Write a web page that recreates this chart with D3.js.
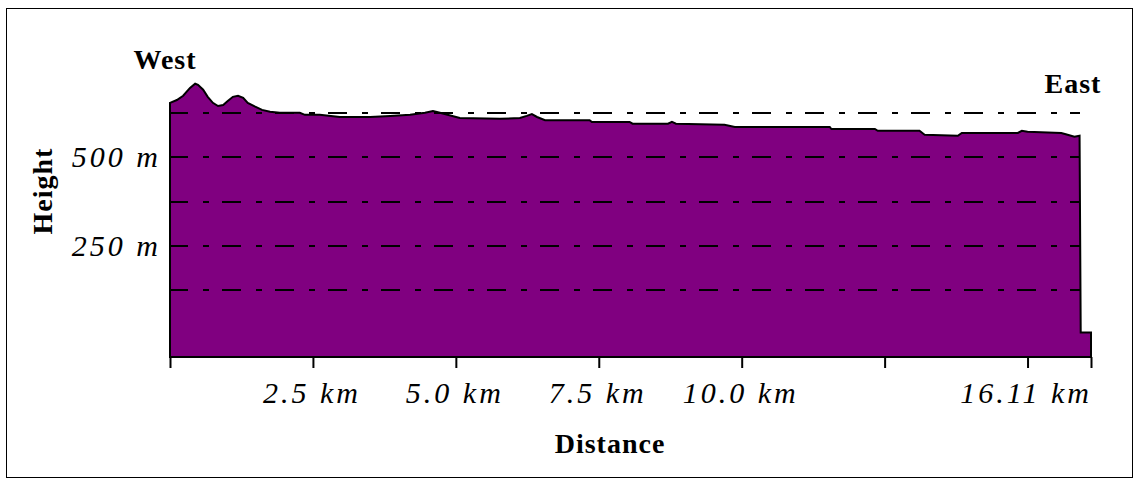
<!DOCTYPE html>
<html>
<head>
<meta charset="utf-8">
<script src="https://cdn.jsdelivr.net/npm/d3@7/dist/d3.min.js"></script>
<style>
  html, body { margin: 0; padding: 0; background: #fff; }
  svg { display: block; }
</style>
</head>
<body>
<svg id="chart" width="1138" height="484"></svg>
<script>
// ---- data (distance in km, height in m) ----
const distances = [0, 0.12, 0.23, 0.35, 0.44, 0.49, 0.58, 0.66, 0.75, 0.84, 0.93, 1.01, 1.10, 1.19, 1.28, 1.36, 1.49, 1.61, 1.75, 1.92,
  2.27, 2.36, 2.62, 2.97, 3.50, 3.85, 4.20, 4.46, 4.60, 4.72, 5.07, 5.77, 6.12, 6.24, 6.33, 6.42, 6.56, 7.34, 7.38, 8.04,
  8.09, 8.71, 8.78, 8.85, 9.70, 9.88, 11.54, 11.57, 12.33, 12.38, 13.11, 13.20, 13.78, 13.85, 14.83, 14.90, 15.00, 15.59, 15.70, 15.82,
  15.91, 15.93, 16.11];
const heights = [654, 662, 674, 696, 708, 705, 691, 671, 654, 645, 648, 659, 671, 674, 668, 654, 643, 634, 629, 626,
  626, 620, 620, 614, 614, 617, 620, 626, 631, 626, 611, 609, 611, 617, 622, 614, 605, 605, 600, 600,
  595, 595, 600, 595, 592, 586, 586, 580, 580, 575, 575, 564, 561, 569, 569, 575, 572, 569, 564, 558,
  561, 5, 5];
const xTickValues = [0, 2.5, 5, 7.5, 10, 12.5, 15, 16.11];
const xLabelValues = [2.5, 5, 7.5, 10];
const xLabelTexts = ["2.5 km", "5.0 km", "7.5 km", "10.0 km"];
const xEndLabelValue = 16.11;
const xEndLabelText = "16.11 km";
const gridValues = [125, 250, 375, 500, 625];
const yLabelValues = [500, 250];
const yLabelTexts = ["500 m", "250 m"];
const xTitle = "Distance";
const yTitle = "Height";
const westLabel = "West";
const eastLabel = "East";

// ---- layout ----
const svg = d3.select("#chart");
const yMin = -64;
const x = d3.scaleLinear().domain([0, 16.11]).range([170, 1091]);
const y = d3.scaleLinear().domain([yMin, 750]).range([357, 68.84]);
const purple = "#800080";
const serif = "'Liberation Serif', 'Times New Roman', serif";

// outer frame
svg.append("rect")
  .attr("x", 6.5).attr("y", 8.5).attr("width", 1126).attr("height", 469)
  .attr("fill", "none").attr("stroke", "#000").attr("stroke-width", 1);

const pts = distances.map((d, i) => [d, heights[i]]);

// filled profile
const area = d3.area()
  .x(d => x(d[0]))
  .y0(y(yMin))
  .y1(d => y(d[1]));
svg.append("path")
  .datum(pts)
  .attr("d", area)
  .attr("fill", purple)
  .attr("stroke", "#000")
  .attr("stroke-width", 2)
  .attr("stroke-linejoin", "miter");

// dash-dot gridlines
const gridEnd = distances[distances.length - 3];
svg.append("g").selectAll("line")
  .data(gridValues)
  .join("line")
  .attr("x1", x(0) - 1)
  .attr("x2", x(gridEnd))
  .attr("y1", d => Math.round(y(d)))
  .attr("y2", d => Math.round(y(d)))
  .attr("stroke", "#000")
  .attr("stroke-width", 2)
  .attr("stroke-dasharray", "19,15,6,13")
  .attr("shape-rendering", "crispEdges");

// x axis
const xAxis = d3.axisBottom(x)
  .tickValues(xTickValues)
  .tickSize(11)
  .tickFormat("");
const gx = svg.append("g")
  .attr("transform", `translate(0,${y(yMin)})`)
  .call(xAxis);
gx.select(".domain").attr("stroke", "#000").attr("stroke-width", 2).attr("d", `M${x(0)},0H${x(16.11)}`);
gx.selectAll(".tick line").attr("stroke", "#000").attr("stroke-width", 2);

// tick label style
const tickText = sel => sel
  .attr("font-family", serif)
  .attr("font-style", "italic")
  .attr("font-size", 30)
  .attr("letter-spacing", 3)
  .attr("fill", "#000");

// x labels
svg.append("g").selectAll("text")
  .data(xLabelValues)
  .join("text")
  .call(tickText)
  .attr("x", d => x(d) - 1)
  .attr("y", y(yMin) + 46)
  .attr("text-anchor", "middle")
  .text((d, i) => xLabelTexts[i]);
svg.append("text")
  .call(tickText)
  .attr("x", x(xEndLabelValue) + 1)
  .attr("y", y(yMin) + 46)
  .attr("text-anchor", "end")
  .text(xEndLabelText);

// y labels
svg.append("g").selectAll("text")
  .data(yLabelValues)
  .join("text")
  .call(tickText)
  .attr("x", x(0) - 9)
  .attr("y", d => y(d) + 10)
  .attr("text-anchor", "end")
  .text((d, i) => yLabelTexts[i]);

// titles
const bold = sel => sel
  .attr("font-family", serif)
  .attr("font-weight", "bold")
  .attr("font-size", 28)
  .attr("letter-spacing", 1)
  .attr("fill", "#000");

svg.append("text").call(bold)
  .attr("x", 165).attr("y", 69)
  .attr("text-anchor", "middle")
  .text(westLabel);
svg.append("text").call(bold)
  .attr("x", 1073).attr("y", 93)
  .attr("text-anchor", "middle")
  .text(eastLabel);
svg.append("text").call(bold)
  .attr("x", 610).attr("y", 453)
  .attr("text-anchor", "middle")
  .text(xTitle);
svg.append("text").call(bold)
  .attr("transform", "translate(52,191) rotate(-90)")
  .attr("text-anchor", "middle")
  .text(yTitle);
</script>
</body>
</html>
